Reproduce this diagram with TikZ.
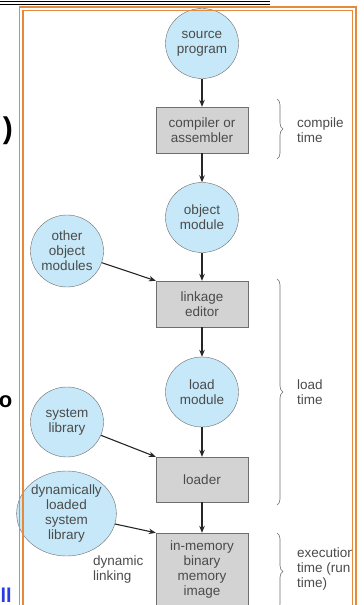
\documentclass[tikz,border=0pt]{standalone}
\usepackage{fontspec}
\setmainfont{Liberation Sans}
\usetikzlibrary{shapes.geometric, arrows.meta, decorations.pathreplacing}
\definecolor{FrameOrange}{RGB}{228,138,58}
\definecolor{ModBlue}{RGB}{198,232,248}
\definecolor{StepGray}{RGB}{211,211,211}
\definecolor{EdgeGray}{RGB}{110,110,110}
\definecolor{InkGray}{RGB}{75,75,75}
\definecolor{SlideBlue}{RGB}{40,60,230}

\begin{document}
\begin{tikzpicture}[x=1pt, y=-1pt,
          md/.style={ellipse, draw=EdgeGray, fill=ModBlue, minimum width=73pt,
                     minimum height=70pt, inner sep=0pt, align=center,
                     font=\fontsize{13.5}{15}\selectfont, text=InkGray},
          st/.style={rectangle, draw=EdgeGray, fill=StepGray, minimum width=92pt,
                     minimum height=46pt, inner sep=0pt, align=center,
                     font=\fontsize{13.5}{15}\selectfont, text=InkGray},
          arr/.style={-{Stealth[length=7pt, width=5.5pt]}, draw=black!85, line width=1.1pt},
          br/.style={decorate, decoration={brace, amplitude=6pt}, draw=EdgeGray, line width=0.6pt},
          lbl/.style={anchor=west, align=left, inner sep=0pt,
                      font=\fontsize{13.5}{15}\selectfont, text=InkGray},
          slide/.style={inner sep=0pt, font=\bfseries}
        ]
        \useasboundingbox (0,0) rectangle (364,605);

        % slide behind the figure
        \draw[line width=1pt] (0,1) -- (270,1);
        \draw[line width=1pt] (0,4.5) -- (270,4.5);
        \node[slide, anchor=base east, font=\bfseries\fontsize{30}{30}\selectfont] (paren) at (13,138) {)};
        \node[slide, anchor=base east, font=\bfseries\fontsize{22}{22}\selectfont] (oh) at (12.5,407) {o};
        \node[slide, anchor=base east, text=SlideBlue, font=\bfseries\fontsize{20}{20}\selectfont] (ell) at (12,602) {ll};

        \node[md] (src) at (202,43.5) {source\\program};
        \node[st] (comp) at (202,130) {compiler or\\assembler};
        \node[md] (obj) at (202,217.5) {object\\module};
        \node[md, minimum height=72pt] (other) at (67,251) {other\\object\\modules};
        \node[st] (link) at (202,304) {linkage\\editor};
        \node[md] (loadmod) at (202,392) {load\\module};
        \node[md] (syslib) at (67,422) {system\\library};
        \node[st, minimum height=45pt] (loader) at (202,479.5) {loader};
        \node[md, minimum width=87pt, minimum height=85pt] (dyn) at (66.5,513.5)
              {dynamically\\loaded\\system\\library};
        \node[st, minimum height=73pt] (image) at (202,569.5)
              {in-memory\\binary\\memory\\image};
        \node[lbl] (dynlink) at (93,569.5) {dynamic\\linking};

        \draw[arr] (src)     -- (comp);
        \draw[arr] (comp)    -- (obj);
        \draw[arr] (obj)     -- (link);
        \draw[arr] (other)   -- (link.north west);
        \draw[arr] (link)    -- (loadmod);
        \draw[arr] (loadmod) -- (loader);
        \draw[arr] (syslib)  -- (loader.north west);
        \draw[arr] (loader)  -- (image);
        \draw[arr] (dyn)     -- (image.north west);

        \begin{scope}
          \clip (0,0) rectangle (352,605);
          \draw[br] (277,99)  -- (277,159) coordinate[midway] (cmid);
          \draw[br] (277,279) -- (277,505) coordinate[midway] (lmid);
          \draw[br] (277,533) -- (277,610) coordinate[midway] (emid);
          \node[lbl] (ctime) at (297,130) {compile\\time};
          \node[lbl] (ltime) at (297,392) {load\\time};
          \node[lbl] (etime) at (297,569) {execution\\time (run\\time)};
        \end{scope}

        \draw[FrameOrange, line width=1.3pt] (19.5,7) rectangle (356,620);
        \draw[FrameOrange, line width=1.1pt] (23,10.5) rectangle (352.5,620);
      \end{tikzpicture}
\end{document}
